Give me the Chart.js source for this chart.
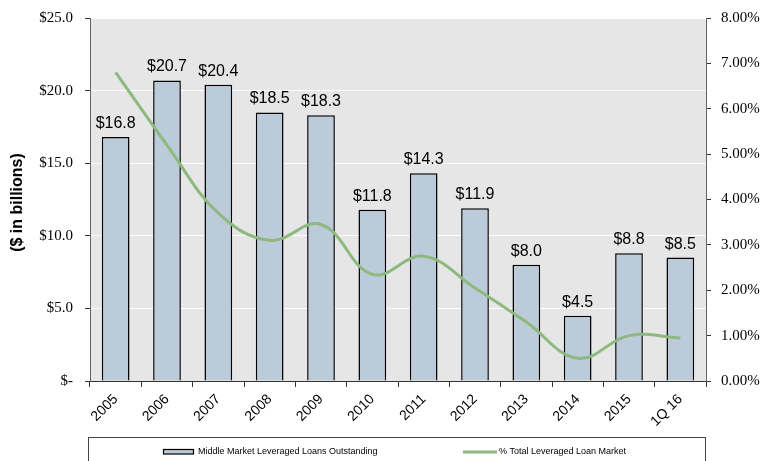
<!DOCTYPE html>
<html>
<head>
<meta charset="utf-8">
<script src="https://cdn.jsdelivr.net/npm/chart.js@4"></script>
<style>
  html, body { margin: 0; padding: 0; background: #fff; }
  #wrap { width: 761px; height: 461px; }
</style>
</head>
<body>
<div id="wrap"><canvas id="chart" width="761" height="461"></canvas></div>
<script>
const categories = ['2005', '2006', '2007', '2008', '2009', '2010', '2011', '2012', '2013', '2014', '2015', '1Q 16'];
const loansOutstanding = [16.8, 20.7, 20.4, 18.5, 18.3, 11.8, 14.3, 11.9, 8.0, 4.5, 8.8, 8.5];
const pctTotalMarket = [6.8, 5.2, 3.7, 3.1, 3.45, 2.35, 2.75, 2.05, 1.3, 0.5, 1.0, 0.95];
const leftTicks = [0, 5, 10, 15, 20, 25];
const rightTicks = [0, 1, 2, 3, 4, 5, 6, 7, 8];

const serif = '"Liberation Serif", "Times New Roman", serif';
const sans = '"Liberation Sans", Arial, sans-serif';

// gray plot background
const chartBg = {
    id: 'chartBg',
    beforeDraw(chart) {
        const { ctx, chartArea: a } = chart;
        ctx.save();
        ctx.fillStyle = '#e6e6e6';
        ctx.fillRect(a.left, a.top, a.right - a.left, a.bottom - a.top);
        ctx.restore();
    }
};

// value labels, y title, boxed legend
const extras = {
    id: 'extras',
    afterDatasetsDraw(chart) {
        const ctx = chart.ctx;
        const meta = chart.getDatasetMeta(0);
        ctx.save();
        ctx.fillStyle = '#000';
        ctx.font = '16px ' + sans;
        ctx.textAlign = 'center';
        ctx.textBaseline = 'alphabetic';
        meta.data.forEach((bar, i) => {
            ctx.fillText('$' + loansOutstanding[i].toFixed(1), bar.x, bar.y - 9);
        });
        ctx.restore();
    },
    afterDraw(chart) {
        const ctx = chart.ctx;
        const a = chart.chartArea;
        ctx.save();
        ctx.translate(18, (a.top + a.bottom) / 2 + 3);
        ctx.rotate(-Math.PI / 2);
        ctx.font = 'bold 16px ' + sans;
        ctx.textAlign = 'center';
        ctx.textBaseline = 'middle';
        ctx.fillStyle = '#000';
        ctx.fillText('($ in billions)', 0, 0);
        ctx.restore();

        ctx.save();
        ctx.strokeStyle = '#444';
        ctx.lineWidth = 1;
        ctx.strokeRect(88.5, 437.5, 617, 40);
        ctx.fillStyle = '#bccbd9';
        ctx.fillRect(163, 449, 31, 5);
        ctx.strokeStyle = '#000';
        ctx.lineWidth = 1.2;
        ctx.strokeRect(163.5, 449.5, 30, 4.5);
        ctx.font = '9px ' + sans;
        ctx.fillStyle = '#000';
        ctx.textBaseline = 'middle';
        ctx.textAlign = 'left';
        ctx.fillText(chart.data.datasets[0].label, 198, 452);
        ctx.strokeStyle = '#8db97f';
        ctx.lineWidth = 3;
        ctx.beginPath();
        ctx.moveTo(463, 452);
        ctx.lineTo(497, 452);
        ctx.stroke();
        ctx.fillText(chart.data.datasets[1].label, 499, 452);
        ctx.restore();
    }
};

new Chart(document.getElementById('chart'), {
    type: 'bar',
    data: {
        labels: categories,
        datasets: [
            {
                label: 'Middle Market Leveraged Loans Outstanding',
                data: loansOutstanding,
                backgroundColor: '#bccbd9',
                borderColor: '#000',
                borderWidth: 1.5,
                barPercentage: 0.54,
                categoryPercentage: 1,
                yAxisID: 'y',
                order: 2
            },
            {
                type: 'line',
                label: '% Total Leveraged Loan Market',
                data: pctTotalMarket,
                borderColor: '#8db97f',
                borderWidth: 3,
                pointRadius: 0,
                tension: 0.4,
                fill: false,
                yAxisID: 'y1',
                order: 1
            }
        ]
    },
    options: {
        responsive: false,
        animation: false,
        layout: { padding: { top: 18, left: 0, right: 0, bottom: 0 } },
        plugins: {
            legend: { display: false },
            tooltip: { enabled: false }
        },
        scales: {
            x: {
                afterFit: s => { s.height = 80; s.paddingLeft = 0; s.paddingRight = 0; },
                grid: { display: true, drawOnChartArea: false, offset: true, tickLength: 6, tickColor: '#333' },
                border: { color: '#333', width: 1 },
                ticks: {
                    color: '#000',
                    font: { family: sans, size: 14 },
                    maxRotation: 45,
                    minRotation: 45,
                    padding: 4,
                    autoSkip: false
                }
            },
            y: {
                position: 'left',
                min: 0,
                max: 25,
                afterFit: s => { s.width = 90; s.paddingTop = 0; s.paddingBottom = 0; },
                afterBuildTicks: s => { s.ticks = leftTicks.map(v => ({ value: v })); },
                grid: { color: '#ffffff', lineWidth: 1, tickLength: 5, tickColor: '#333' },
                border: { color: '#666', width: 1 },
                ticks: {
                    color: '#000',
                    font: { family: serif, size: 15 },
                    padding: 12,
                    callback: v => v === 0 ? '$-' : '$' + v.toFixed(1)
                }
            },
            y1: {
                position: 'right',
                min: 0,
                max: 8,
                afterFit: s => { s.width = 55; s.paddingTop = 0; s.paddingBottom = 0; },
                afterBuildTicks: s => { s.ticks = rightTicks.map(v => ({ value: v })); },
                grid: { drawOnChartArea: false, tickLength: 5, tickColor: '#333' },
                border: { color: '#666', width: 1 },
                ticks: {
                    color: '#000',
                    font: { family: serif, size: 15 },
                    padding: 10,
                    callback: v => v.toFixed(2) + '%'
                }
            }
        }
    },
    plugins: [chartBg, extras]
});
</script>
</body>
</html>
